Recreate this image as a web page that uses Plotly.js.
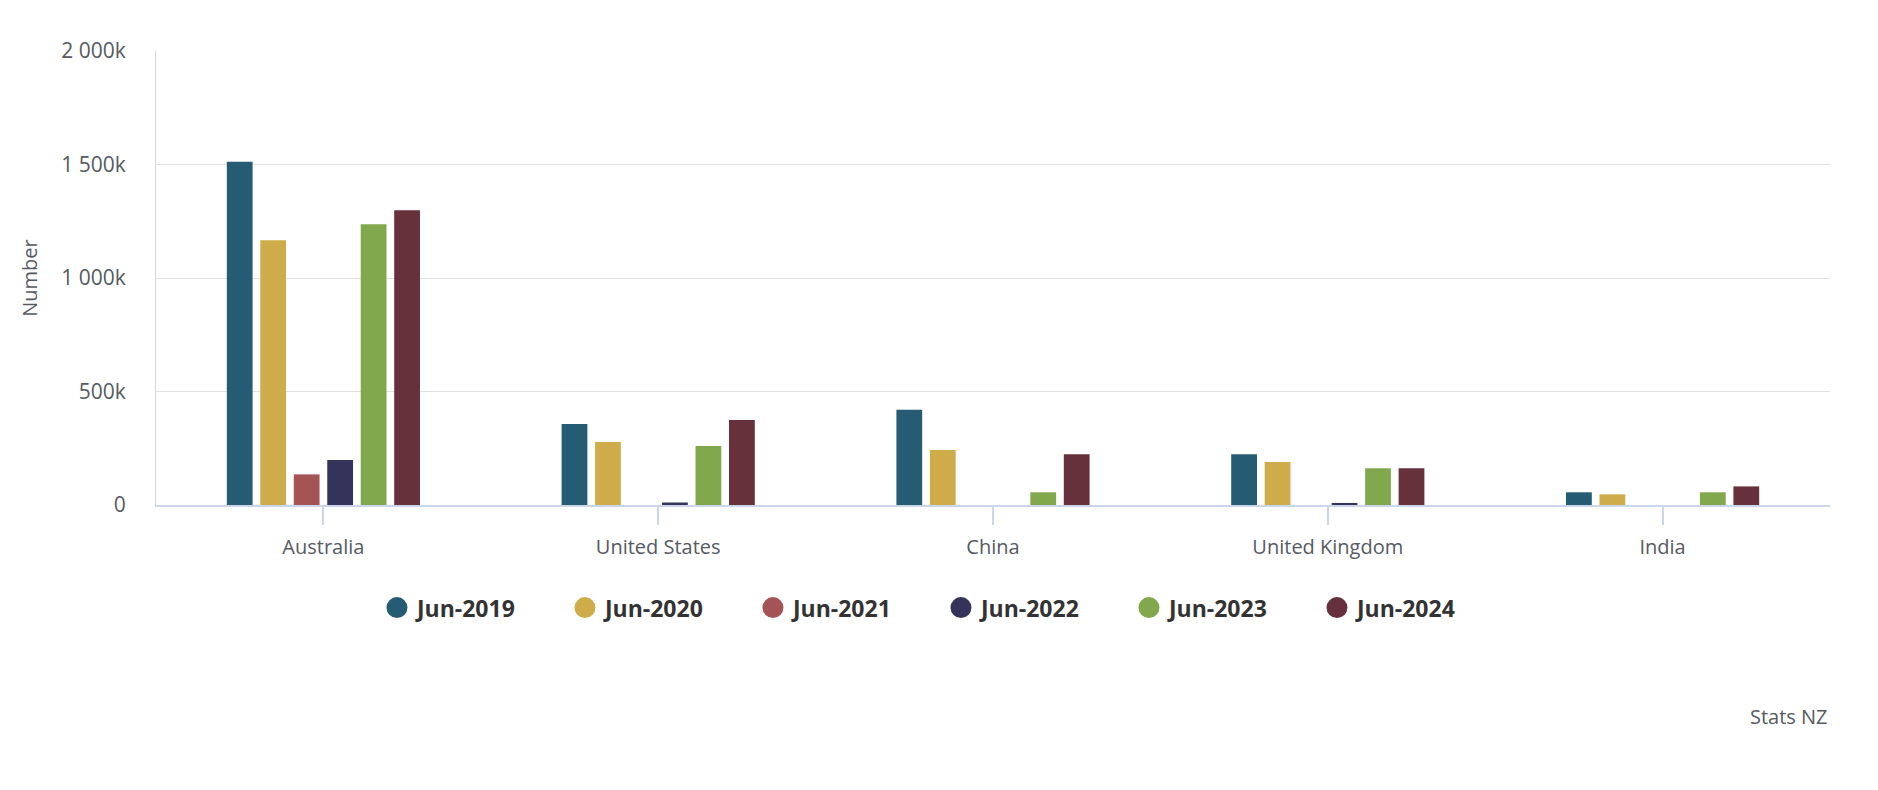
<!DOCTYPE html>
<html>
<head>
<meta charset="utf-8">
<script src="https://cdn.plot.ly/plotly-3.0.1.min.js"></script>
<style>
  html, body { margin: 0; padding: 0; background: #fff; }
  #chart { width: 1878px; height: 790px; }
</style>
</head>
<body>
<div id="chart"></div>
<script>
var countries = ['Australia', 'United States', 'China', 'United Kingdom', 'India'];

var years = ['Jun-2019', 'Jun-2020', 'Jun-2021', 'Jun-2022', 'Jun-2023', 'Jun-2024'];

// thousands of people
var jun2019 = [1512, 357, 420, 224, 56];
var jun2020 = [1166, 278, 242, 189, 47];
var jun2021 = [135, 0, 0, 0, 0];
var jun2022 = [198, 11, 0, 9, 0];
var jun2023 = [1237, 260, 56, 162, 56];
var jun2024 = [1299, 375, 224, 162, 82];

var yTickVals = [0, 500000, 1000000, 1500000, 2000000];
var yTickText = ['0', '500k', '1\u00a0000k', '1\u00a0500k', '2\u00a0000k'];

var colors = ['#265c73', '#ceac4a', '#a45455', '#34345a', '#82a84d', '#66313b'];

var series = [jun2019, jun2020, jun2021, jun2022, jun2023, jun2024];

var data = [];

// bars (legend off, the round legend markers come from the dummy traces below)
series.forEach(function (vals, i) {
  data.push({
    type: 'bar',
    x: countries,
    y: vals.map(function (v) { return v * 1000; }),
    name: years[i],
    showlegend: false,
    marker: { color: colors[i] },
    hoverinfo: 'x+y+name'
  });
});

// legend marker size is capped, a same-colour outline makes the dots bigger
years.forEach(function (yr, i) {
  data.push({
    type: 'scatter',
    mode: 'markers',
    x: [null],
    y: [null],
    name: yr,
    marker: { color: colors[i], size: 23, symbol: 'circle', line: { color: colors[i], width: 5 } },
    hoverinfo: 'skip'
  });
});

var layout = {
  width: 1878,
  height: 790,
  margin: { l: 156, r: 48, t: 51, b: 285 },
  paper_bgcolor: '#ffffff',
  plot_bgcolor: '#ffffff',
  font: { family: '"Open Sans", sans-serif', color: '#555a5f', size: 18 },
  barmode: 'group',
  bargap: 0.4,
  bargroupgap: 0.23,
  showlegend: true,
  xaxis: {
    type: 'category',
    showgrid: false,
    showline: true,
    linecolor: '#ccd6eb',
    linewidth: 2,
    ticks: 'outside',
    ticklen: 18,
    tickwidth: 2,
    tickcolor: '#ccd6eb',
    ticklabelstandoff: 5,
    tickfont: { size: 20, color: '#555a5f' },
    fixedrange: true
  },
  yaxis: {
    range: [0, 2000000],
    tickvals: yTickVals,
    ticktext: yTickText,
    showgrid: true,
    gridcolor: '#e0e0e0',
    gridwidth: 1,
    showline: true,
    linecolor: '#ccd6eb',
    linewidth: 1,
    zeroline: false,
    ticks: '',
    ticklabelstandoff: 25,
    tickfont: { size: 21, color: '#555a5f' },
    title: { text: 'Number', font: { size: 20, color: '#555a5f' }, standoff: 18 },
    fixedrange: true
  },
  legend: {
    orientation: 'h',
    x: 0.1320,
    xanchor: 'left',
    y: -0.226,
    yanchor: 'middle',
    entrywidth: 143,
    entrywidthmode: 'pixels',
    font: { size: 23, color: '#333333', weight: 'bold' }
  },
  annotations: [{
    xref: 'paper',
    yref: 'paper',
    x: 1,
    y: -0.466,
    xanchor: 'right',
    yanchor: 'middle',
    showarrow: false,
    text: 'Stats NZ',
    font: { size: 20, color: '#555a5f' }
  }]
};

Plotly.newPlot('chart', data, layout, { displayModeBar: false });
</script>
</body>
</html>
